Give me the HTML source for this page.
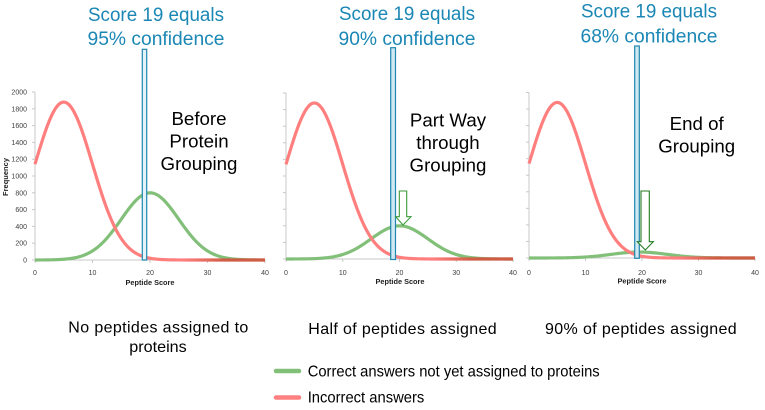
<!DOCTYPE html>
<html><head><meta charset="utf-8"><style>
html,body{margin:0;padding:0;background:#fff;}
svg{display:block;}
text{font-family:"Liberation Sans",Arial,sans-serif;}
</style></head><body>
<svg id="s" width="765" height="410" viewBox="0 0 765 410" xmlns="http://www.w3.org/2000/svg">
<defs id="defs"></defs>
<rect width="765" height="410" fill="#fff"/>
<g id="axes"></g>
<g id="curves"></g>

<!-- chart 1 tick labels -->
<g font-size="7" fill="#404040" text-anchor="end">
<text x="27" y="262.5">0</text>
<text x="27" y="245.7">200</text>
<text x="27" y="228.9">400</text>
<text x="27" y="212.1">600</text>
<text x="27" y="195.3">800</text>
<text x="27" y="178.5">1000</text>
<text x="27" y="161.7">1200</text>
<text x="27" y="144.9">1400</text>
<text x="27" y="128.1">1600</text>
<text x="27" y="111.3">1800</text>
<text x="27" y="94.5">2000</text>
</g>
<g font-size="7" fill="#404040" text-anchor="middle">
<text x="35" y="275">0</text><text x="92.5" y="275">10</text><text x="150" y="275">20</text><text x="207.5" y="275">30</text><text x="265" y="275">40</text>
<text x="286" y="275">0</text><text x="342.75" y="275">10</text><text x="399.5" y="275">20</text><text x="456.25" y="275">30</text><text x="513" y="275">40</text>
<text x="529" y="275">0</text><text x="585.5" y="275">10</text><text x="642" y="275">20</text><text x="698.5" y="275">30</text><text x="755" y="275">40</text>
</g>
<g font-size="7.5" font-weight="bold" fill="#222" text-anchor="middle">
<text x="150" y="285" textLength="49" lengthAdjust="spacingAndGlyphs">Peptide Score</text>
<text x="400" y="284" textLength="49" lengthAdjust="spacingAndGlyphs">Peptide Score</text>
<text x="642" y="283.5" textLength="49" lengthAdjust="spacingAndGlyphs">Peptide Score</text>
<text transform="translate(8,177) rotate(-90)" textLength="38" lengthAdjust="spacingAndGlyphs">Frequency</text>
</g>

<g id="overlay"></g>

<!-- titles -->
<g font-size="19" fill="#1b87b5" text-anchor="middle">
<text x="156" y="21" textLength="136" lengthAdjust="spacingAndGlyphs">Score 19 equals</text>
<text x="156" y="45" textLength="137" lengthAdjust="spacingAndGlyphs">95% confidence</text>
<text x="407" y="20" textLength="136" lengthAdjust="spacingAndGlyphs">Score 19 equals</text>
<text x="407" y="45" textLength="137" lengthAdjust="spacingAndGlyphs">90% confidence</text>
<text x="649" y="17.7" textLength="136" lengthAdjust="spacingAndGlyphs">Score 19 equals</text>
<text x="649" y="42.7" textLength="137" lengthAdjust="spacingAndGlyphs">68% confidence</text>
</g>

<!-- stage labels -->
<g font-size="18.7" fill="#000" text-anchor="middle">
<text x="199" y="125">Before</text>
<text x="199" y="147.5">Protein</text>
<text x="199" y="170">Grouping</text>
<text x="448" y="126.7">Part Way</text>
<text x="448" y="149">through</text>
<text x="448" y="171.5">Grouping</text>
<text x="696.7" y="130">End of</text>
<text x="696.7" y="152.7">Grouping</text>
</g>

<!-- bottom captions -->
<g font-size="16" fill="#000">
<text x="68.3" y="332.7" textLength="180" lengthAdjust="spacing">No peptides assigned to</text>
<text x="129.3" y="352" textLength="57.4" lengthAdjust="spacingAndGlyphs">proteins</text>
<text x="308.3" y="334" textLength="188.4" lengthAdjust="spacing">Half of peptides assigned</text>
<text x="545" y="334" textLength="191.7" lengthAdjust="spacing">90% of peptides assigned</text>
</g>

<!-- legend -->
<line x1="276" y1="371" x2="299" y2="371" stroke="#82c07a" stroke-width="4.5" stroke-linecap="round"/>
<line x1="276" y1="397.5" x2="299" y2="397.5" stroke="#ff8080" stroke-width="4.5" stroke-linecap="round"/>
<g font-size="16" fill="#000">
<text x="307.7" y="376.7" textLength="292" lengthAdjust="spacingAndGlyphs">Correct answers not yet assigned to proteins</text>
<text x="307.7" y="402.7" textLength="116.6" lengthAdjust="spacingAndGlyphs">Incorrect answers</text>
</g>
</svg>
<script>
(function(){
var NS="http://www.w3.org/2000/svg";
function el(parent,name,attrs){var e=document.createElementNS(NS,name);for(var k in attrs)e.setAttribute(k,attrs[k]);parent.appendChild(e);return e;}
var axes=document.getElementById("axes"),curves=document.getElementById("curves"),ov=document.getElementById("overlay"),defs=document.getElementById("defs");
var charts=[
 {x0:35,x40:265,y0:260,k:0.084,gp:800,gm:20,rect:[142.3,49.3,146.7,260],rf:"#e4f3f8"},
 {x0:286,x40:513,y0:259,k:0.083,gp:400,gm:20,rect:[390.7,47.7,395.5,259.5],rf:"#cfe8f1"},
 {x0:529,x40:755,y0:258,k:0.08275,gp:72,gm:19.5,rect:[634.7,46,639.3,258.3],rf:"#cfe8f1"}
];
function g(x,m,s,a){return a*Math.exp(-(x-m)*(x-m)/(2*s*s));}
charts.forEach(function(c,idx){
 var sx=(c.x40-c.x0)/40;
 el(axes,"line",{x1:c.x0,y1:c.y0-2000*c.k,x2:c.x0,y2:c.y0,stroke:"#c8c8c8","stroke-width":1});
 el(axes,"line",{x1:c.x0,y1:c.y0,x2:c.x40,y2:c.y0,stroke:"#c8c8c8","stroke-width":1});
 for(var v=0;v<=2000;v+=200){var y=c.y0-v*c.k;el(axes,"line",{x1:c.x0-3,y1:y,x2:c.x0,y2:y,stroke:"#c8c8c8","stroke-width":1});}
 for(var t=0;t<=40;t+=10){var x=c.x0+t*sx;el(axes,"line",{x1:x,y1:c.y0,x2:x,y2:c.y0+3,stroke:"#c8c8c8","stroke-width":1});}
 var lg=el(defs,"linearGradient",{id:"rg"+idx,gradientUnits:"userSpaceOnUse",x1:c.x0+26*sx,y1:0,x2:c.x0+33*sx,y2:0});
 el(lg,"stop",{offset:"0","stop-color":"#ff7f7f"});
 el(lg,"stop",{offset:"1","stop-color":"#cf5c44"});
 var dg="",dr="";
 for(var i=0;i<=160;i++){var s=i/4;var X=(c.x0+s*sx).toFixed(2);
  dg+=(i?"L":"M")+X+","+(c.y0-g(s,c.gm,5,c.gp)*c.k).toFixed(2);
  dr+=(i?"L":"M")+X+","+(c.y0-g(s,5,5,1880)*c.k).toFixed(2);}
 el(curves,"path",{d:dg,fill:"none",stroke:"#82c07a","stroke-width":3.2,"stroke-linejoin":"round"});
 el(curves,"path",{d:dr,fill:"none",stroke:"url(#rg"+idx+")","stroke-width":3.2,"stroke-linejoin":"round"});
 var r=c.rect;
 el(ov,"rect",{x:r[0],y:r[1],width:r[2]-r[0],height:r[3]-r[1],fill:c.rf,stroke:"#1f87b0","stroke-width":1.2});
});
el(ov,"polygon",{points:"399.3,191 406.7,191 406.7,216.7 411,216.7 403,225 395.7,216.7 399.3,216.7",fill:"#fff",stroke:"#3a9a3a","stroke-width":1.1});
el(ov,"polygon",{points:"641,191 649.3,191 649.3,241.7 653.3,241.7 645.3,250 637.3,241.7 641,241.7",fill:"#fff",stroke:"#217a21","stroke-width":1.1});
})();
</script>
</body></html>
